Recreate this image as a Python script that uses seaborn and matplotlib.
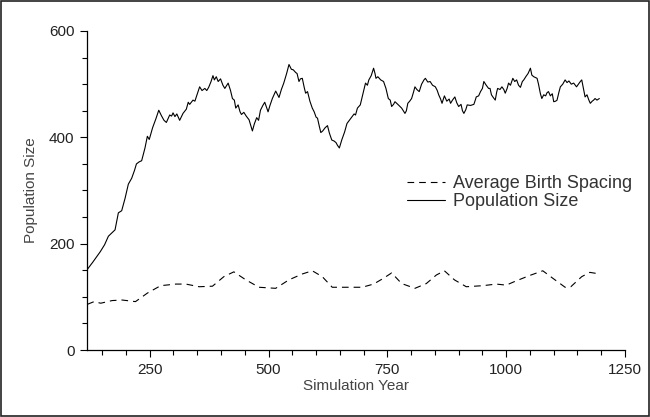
import matplotlib
matplotlib.use("Agg")
import matplotlib.pyplot as plt
import matplotlib.patches as mpatches
from matplotlib.ticker import MultipleLocator
import seaborn as sns

# Population size
pop_year = [119, 130, 146, 155, 163, 170, 177, 184, 191, 198, 205, 212, 218, 222, 228, 233, 240, 245, 249, 256,
            263, 269, 275, 280, 285, 292, 296, 299, 303, 307, 313, 320, 327, 331, 334, 341, 345, 355, 360, 366,
            370, 374, 379, 383, 386, 390, 394, 399, 404, 408, 415, 420, 424, 428, 431, 436, 440, 443, 448, 453,
            459, 466, 470, 475, 479, 483, 488, 492, 499, 503, 508, 515, 519, 522, 527, 532, 538, 543, 548, 552,
            557, 560, 564, 567, 571, 575, 578, 582, 587, 592, 596, 600, 603, 607, 610, 614, 619, 624, 628, 633,
            638, 642, 645, 649, 654, 660, 665, 670, 676, 680, 683, 687, 693, 698, 704, 708, 711, 716, 721, 724,
            726, 730, 736, 742, 747, 752, 756, 759, 763, 766, 772, 780, 787, 790, 793, 797, 801, 805, 808, 812,
            817, 822, 827, 830, 835, 840, 845, 851, 855, 858, 862, 865, 870, 875, 880, 883, 887, 892, 896, 900,
            905, 908, 911, 915, 918, 925, 932, 935, 937, 942, 946, 950, 953, 958, 963, 966, 969, 972, 977, 980,
            982, 987, 991, 995, 998, 1002, 1005, 1009, 1014, 1018, 1022, 1026, 1030, 1034, 1037, 1042, 1046, 1051, 1054, 1058,
            1065, 1068, 1072, 1075, 1079, 1083, 1086, 1089, 1093, 1097, 1100, 1104, 1107, 1111, 1114, 1119, 1124, 1128, 1132, 1137,
            1142, 1148, 1152, 1156, 1159, 1163, 1166, 1170, 1174, 1177, 1181, 1184, 1187, 1191, 1196]
pop_size = [152, 165, 185, 198, 214, 220, 226, 258, 262, 285, 312, 323, 338, 350, 354, 356, 380, 402, 396, 418,
            435, 451, 440, 432, 428, 442, 440, 446, 439, 444, 432, 445, 453, 466, 462, 470, 468, 495, 488, 492,
            488, 494, 505, 516, 508, 514, 505, 510, 498, 492, 502, 488, 473, 470, 455, 461, 448, 443, 447, 440,
            433, 412, 425, 437, 432, 451, 460, 466, 448, 460, 473, 487, 480, 475, 490, 502, 520, 537, 528, 527,
            522, 520, 505, 510, 511, 494, 483, 486, 468, 455, 448, 438, 436, 420, 409, 412, 418, 422, 408, 395,
            393, 390, 385, 380, 395, 410, 426, 432, 439, 444, 442, 455, 461, 480, 502, 498, 508, 516, 530, 520,
            511, 514, 508, 505, 492, 473, 470, 458, 462, 467, 462, 455, 445, 450, 464, 468, 473, 485, 495, 490,
            486, 500, 508, 511, 504, 505, 498, 495, 488, 480, 472, 464, 478, 468, 472, 464, 470, 476, 465, 458,
            462, 450, 445, 452, 461, 460, 462, 470, 476, 478, 486, 492, 505, 498, 492, 492, 480, 476, 470, 485,
            492, 490, 495, 490, 483, 492, 502, 498, 511, 505, 508, 498, 494, 505, 508, 515, 520, 530, 517, 514,
            511, 500, 482, 473, 480, 478, 484, 486, 478, 482, 467, 468, 470, 485, 495, 500, 508, 503, 506, 500,
            502, 495, 500, 505, 508, 490, 476, 480, 470, 464, 468, 470, 473, 470, 473]

# Average birth spacing
bs_year = [119, 133, 147, 171, 192, 220, 245, 273, 305, 326, 354, 382, 406, 427, 452, 480, 515, 543, 571, 592,
           613, 634, 669, 697, 721, 742, 759, 780, 808, 832, 853, 870, 891, 916, 951, 979, 1000, 1021, 1049, 1077,
           1098, 1124, 1136, 1159, 1176, 1190]
bs_value = [86, 91, 88, 93, 94, 91, 107, 121, 124, 124, 119, 120, 138, 147, 132, 118, 116, 132, 143, 149,
            138, 118, 118, 118, 124, 135, 145, 125, 116, 125, 141, 149, 132, 119, 121, 124, 122, 130, 140, 149,
            135, 118, 119, 138, 146, 144]

sns.set_style("ticks")
plt.rcParams['font.family'] = ['Liberation Sans', 'DejaVu Sans']

fig = plt.figure(figsize=(6.5, 4.17), dpi=100)
ax = fig.add_axes([87 / 650, 1 - 350 / 417, (625 - 87) / 650, (350 - 31) / 417])

sns.lineplot(x=bs_year, y=bs_value, ax=ax, color='black', lw=0.8, label='Average Birth Spacing')
sns.lineplot(x=pop_year, y=pop_size, ax=ax, color='black', lw=0.8, label='Population Size')
ax.lines[0].set_dashes((6, 4.5))

ax.set_xlim(118, 1250)
ax.set_ylim(0, 600)
ax.xaxis.set_major_locator(MultipleLocator(250))
ax.xaxis.set_minor_locator(MultipleLocator(50))
ax.yaxis.set_major_locator(MultipleLocator(200))
ax.yaxis.set_minor_locator(MultipleLocator(50))
ax.tick_params(which='major', length=5, width=0.8, color='black', labelsize=11, labelcolor='#222222',
               direction='out', pad=4)
ax.tick_params(which='minor', length=3.5, width=0.8, color='black', direction='out')
for s in ['top', 'right']:
    ax.spines[s].set_visible(False)
for s in ['left', 'bottom']:
    ax.spines[s].set_color('black')
    ax.spines[s].set_linewidth(0.9)

ax.set_xlabel('Simulation Year', fontsize=11, color='#444444', labelpad=2)
ax.set_ylabel('Population Size', fontsize=11, color='#444444', labelpad=8)

leg = ax.legend(loc='upper left', bbox_to_anchor=(407 / 650, 1 - 175 / 417), bbox_transform=fig.transFigure,
                frameon=False, borderpad=0, borderaxespad=0, handlelength=2.1, handletextpad=0.45,
                labelspacing=0.05, prop={'family': 'Liberation Sans', 'size': 13})
for t in leg.get_texts():
    t.set_color('#333333')

# thin frame around the whole figure
fig.patches.append(mpatches.Rectangle((0.001, 0.002), 0.997, 0.995, transform=fig.transFigure,
                                      fill=False, edgecolor='#222222', lw=1.2))

fig.savefig('out.png', dpi=100)
